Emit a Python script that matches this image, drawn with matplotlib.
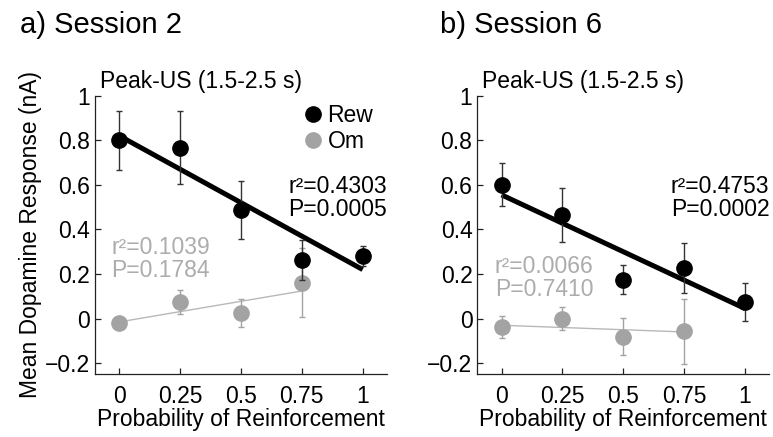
import matplotlib
matplotlib.use("Agg")
import matplotlib.pyplot as plt
import numpy as np

plt.rcParams['font.family'] = ['Liberation Sans', 'DejaVu Sans']

prob = [0, 0.25, 0.5, 0.75, 1]
prob_om = [0, 0.25, 0.5, 0.75]
xtick_labels = ['0', '0.25', '0.5', '0.75', '1']
yticks = [-0.2, 0, 0.2, 0.4, 0.6, 0.8, 1]
ytick_labels = ['\u22120.2', '0', '0.2', '0.4', '0.6', '0.8', '1']

# Session 2
s2_rew = [0.80, 0.767, 0.487, 0.262, 0.28]
s2_rew_err = [0.133, 0.163, 0.130, 0.09, 0.046]
s2_om = [-0.022, 0.075, 0.027, 0.16]
s2_om_err = [0.01, 0.055, 0.063, 0.155]
s2_rew_fit = (0.82, -0.60)   # intercept, slope
s2_om_fit = (-0.015, 0.185)
s2_stats_rew = ('r\u00b2=0.4303', 'P=0.0005')
s2_stats_om = ('r\u00b2=0.1039', 'P=0.1784')

# Session 6
s6_rew = [0.60, 0.466, 0.175, 0.227, 0.075]
s6_rew_err = [0.097, 0.121, 0.066, 0.11, 0.085]
s6_om = [-0.037, 0.0, -0.082, -0.057]
s6_om_err = [0.048, 0.05, 0.083, 0.147]
s6_rew_fit = (0.555, -0.51)
s6_om_fit = (-0.03, -0.04)
s6_stats_rew = ('r\u00b2=0.4753', 'P=0.0002')
s6_stats_om = ('r\u00b2=0.0066', 'P=0.7410')

BLACK = '#000000'
GRAY = '#a3a3a3'
GRAY_TXT = '#acacac'
GRAY_LINE = '#b8b8b8'

fig = plt.figure(figsize=(7.73, 4.37), dpi=100)
W, H = 773, 437

def make_ax(left_px):
    return fig.add_axes([left_px / W, (H - 374.3) / H, 292 / W, (374.3 - 95.7) / H])

def draw(ax, rew, rew_err, om, om_err, rew_fit, om_fit, st_rew, st_om,
         st_rew_pos, st_om_pos, legend=False, ylabel=False):
    xr = np.array([prob[0], prob[-1]])
    xo = np.array([prob_om[0], prob_om[-1]])
    ax.plot(xo, om_fit[0] + om_fit[1] * xo, color=GRAY_LINE, lw=1.0, zorder=2)
    ax.plot(xr, rew_fit[0] + rew_fit[1] * xr, color=BLACK, lw=3.6, zorder=3,
            solid_capstyle='butt')
    ax.errorbar(prob_om, om, yerr=om_err, fmt='o', color=GRAY, ms=11,
                ecolor=GRAY, elinewidth=1.0, capsize=2.5, capthick=1.0, zorder=4,
                label='Om')
    ax.errorbar(prob, rew, yerr=rew_err, fmt='o', color=BLACK, ms=11,
                ecolor='#333333', elinewidth=1.0, capsize=2.5, capthick=1.0, zorder=5,
                label='Rew')
    ax.set_xlim(-0.1, 1.1)
    ax.set_ylim(-0.25, 1.0)
    ax.set_xticks(prob)
    ax.set_xticklabels(xtick_labels)
    ax.set_yticks(yticks)
    ax.set_yticklabels(ytick_labels)
    for s in ('top', 'right'):
        ax.spines[s].set_visible(False)
    for s in ('left', 'bottom'):
        ax.spines[s].set_linewidth(0.9)
        ax.spines[s].set_color('#222222')
    ax.tick_params(direction='in', length=4, width=0.9, labelsize=16.5,
                   colors='#222222', labelcolor='black')
    ax.tick_params(axis='x', pad=8)
    ax.tick_params(axis='y', pad=3.5)
    ax.set_xlabel('Probability of Reinforcement', fontsize=16.5, labelpad=0)
    if ylabel:
        ax.set_ylabel('Mean Dopamine Response (nA)', fontsize=16.5, labelpad=2)
    ax.text(0.017, 1.01, 'Peak-US (1.5-2.5 s)', transform=ax.transAxes,
            fontsize=16.5, va='bottom', ha='left')
    ha_r, x_r, y_r = st_rew_pos
    ax.text(x_r, y_r, st_rew[0] + '\n' + st_rew[1], transform=ax.transAxes,
            fontsize=16.5, ha=ha_r, va='top', linespacing=1.0, color='black')
    ha_o, x_o, y_o = st_om_pos
    ax.text(x_o, y_o, st_om[0] + '\n' + st_om[1], transform=ax.transAxes,
            fontsize=16.5, ha=ha_o, va='top', linespacing=1.0, color=GRAY_TXT)
    if legend:
        h, l = ax.get_legend_handles_labels()
        order = [l.index('Rew'), l.index('Om')]
        ax.legend([h[i][0] for i in order], [l[i] for i in order],
                  loc='upper right', bbox_to_anchor=(1.0, 1.02),
                  frameon=False, fontsize=16.5, handletextpad=0.05,
                  handlelength=1.2, labelspacing=0.15, borderaxespad=0.2)

ax1 = make_ax(95)
draw(ax1, s2_rew, s2_rew_err, s2_om, s2_om_err, s2_rew_fit, s2_om_fit,
     s2_stats_rew, s2_stats_om, ('right', 1.0, 0.715), ('left', 0.055, 0.495),
     legend=True, ylabel=True)
ax2 = make_ax(477.3)
draw(ax2, s6_rew, s6_rew_err, s6_om, s6_om_err, s6_rew_fit, s6_om_fit,
     s6_stats_rew, s6_stats_om, ('right', 1.0, 0.715), ('left', 0.06, 0.43))

fig.text(20 / W, (H - 33) / H, 'a) Session 2', fontsize=21, va='baseline', ha='left')
fig.text(440 / W, (H - 33) / H, 'b) Session 6', fontsize=21, va='baseline', ha='left')

fig.savefig('out.png', dpi=100, facecolor='white')
